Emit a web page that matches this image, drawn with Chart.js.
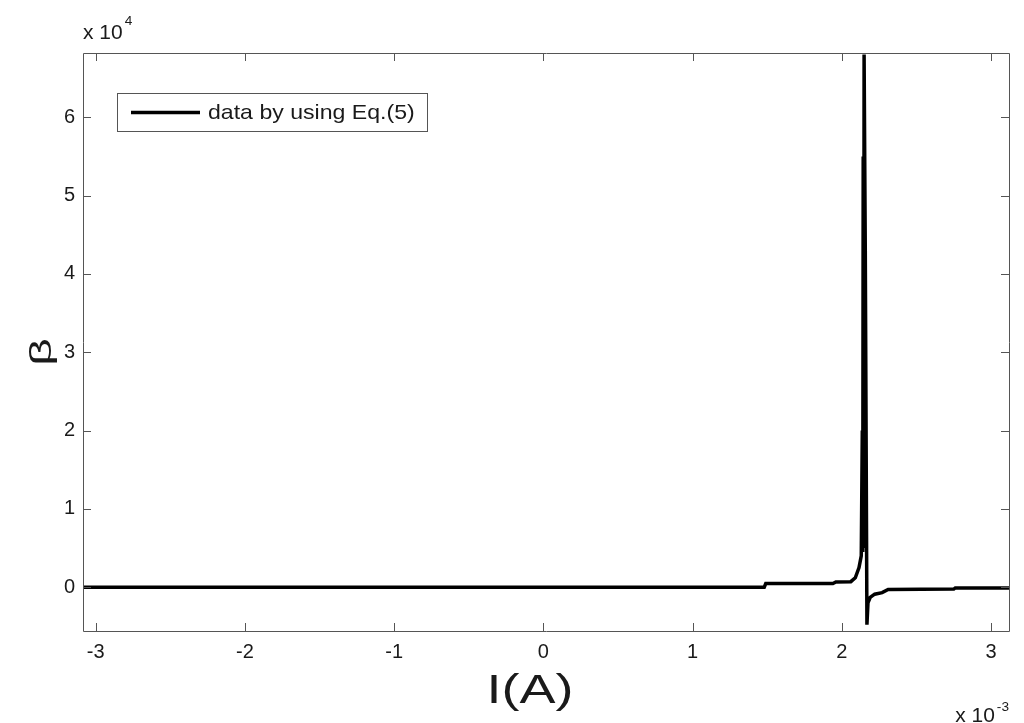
<!DOCTYPE html>
<html>
<head>
<meta charset="utf-8">
<script src="https://cdn.jsdelivr.net/npm/chart.js@4/dist/chart.umd.min.js"></script>
<style>
html,body{margin:0;padding:0;background:#fff;}
#wrap{width:1024px;height:723px;position:relative;}
</style>
</head>
<body>
<div id="wrap"><canvas id="c" width="1024" height="723"></canvas></div>
<script>
// Current I (units of 1e-3 A)
const currentI = [-3.085, 1.48, 1.49, 1.94, 1.96, 2.06, 2.09, 2.115, 2.13, 2.137, 2.140, 2.143, 2.146, 2.149, 2.152, 2.157, 2.168, 2.175, 2.19, 2.22, 2.27, 2.31, 2.75, 2.76, 3.12];
// beta (units of 1e4)
const betaValues = [0, 0, 0.045, 0.045, 0.065, 0.07, 0.12, 0.25, 0.4, 2.0, 0.45, 5.5, 0.5, 6.8, 6.8, 4.3, -0.48, -0.2, -0.13, -0.09, -0.07, -0.03, -0.025, -0.01, -0.01];
const xTickValues = [-3, -2, -1, 0, 1, 2, 3];
const yTickValues = [0, 1, 2, 3, 4, 5, 6];
const seriesLabel = 'data by using Eq.(5)';
const xTitle = 'I(A)';
const yTitle = 'β';
const xExponent = '-3';
const yExponent = '4';

const FONT = '"Liberation Sans", Arial, Helvetica, sans-serif';
const AXIS_COLOR = '#555555';
const TEXT_COLOR = '#1a1a1a';

const points = currentI.map((x, i) => ({x: x, y: betaValues[i]}));

function stretchedText(ctx, text, x, y, size, sx, align) {
  ctx.save();
  ctx.font = size + 'px ' + FONT;
  const w = ctx.measureText(text).width * sx;
  let left = x;
  if (align === 'center') left = x - w / 2;
  else if (align === 'right') left = x - w;
  ctx.translate(left, y);
  ctx.scale(sx, 1);
  ctx.textAlign = 'left';
  ctx.fillText(text, 0, 0);
  ctx.restore();
  return w;
}

const framePlugin = {
  id: 'frame',
  afterDraw(chart) {
    const ctx = chart.ctx;
    const a = chart.chartArea;
    const xs = chart.scales.x, ys = chart.scales.y;
    ctx.save();
    ctx.strokeStyle = AXIS_COLOR;
    ctx.lineWidth = 1;
    ctx.beginPath();
    ctx.rect(Math.round(a.left) + 0.5, Math.round(a.top) + 0.5, Math.round(a.right - a.left), Math.round(a.bottom - a.top));
    ctx.stroke();
    const tl = 8;
    ctx.beginPath();
    xTickValues.forEach(v => {
      const px = Math.round(xs.getPixelForValue(v)) + 0.5;
      ctx.moveTo(px, a.bottom); ctx.lineTo(px, a.bottom - tl);
      ctx.moveTo(px, a.top); ctx.lineTo(px, a.top + tl);
    });
    yTickValues.forEach(v => {
      const py = Math.round(ys.getPixelForValue(v)) + 0.5;
      ctx.moveTo(a.left, py); ctx.lineTo(a.left + tl, py);
      ctx.moveTo(a.right, py); ctx.lineTo(a.right - tl, py);
    });
    ctx.stroke();

    ctx.fillStyle = TEXT_COLOR;
    ctx.textBaseline = 'alphabetic';

    // exponent labels
    let w = stretchedText(ctx, 'x 10', a.left, 39, 20, 1.05, 'left');
    stretchedText(ctx, yExponent, a.left + w + 2, 25, 13, 1.05, 'left');

    ctx.font = '13px ' + FONT;
    const ew = ctx.measureText(xExponent).width * 1.05;
    ctx.font = '20px ' + FONT;
    const bw = ctx.measureText('x 10').width * 1.05;
    const startX = a.right - bw - ew - 2;
    stretchedText(ctx, 'x 10', startX, 722, 20, 1.05, 'left');
    stretchedText(ctx, xExponent, startX + bw + 2, 711, 13, 1.05, 'left');

    // axis titles
    stretchedText(ctx, xTitle, 530, 703, 40, 1.35, 'center');
    ctx.save();
    ctx.translate(51, 352);
    ctx.rotate(-Math.PI / 2);
    stretchedText(ctx, yTitle, 0, 0, 30, 1.6, 'center');
    ctx.restore();

    // legend
    const lx = 117, ly = 93, lw = 310, lh = 38;
    ctx.fillStyle = '#fff';
    ctx.fillRect(lx, ly, lw, lh);
    ctx.strokeStyle = AXIS_COLOR;
    ctx.lineWidth = 1;
    ctx.strokeRect(lx + 0.5, ly + 0.5, lw, lh);
    const ds = chart.data.datasets[0];
    ctx.strokeStyle = ds.borderColor;
    ctx.lineWidth = 3.5;
    ctx.beginPath();
    ctx.moveTo(131, ly + lh / 2 + 0.5);
    ctx.lineTo(200, ly + lh / 2 + 0.5);
    ctx.stroke();
    ctx.fillStyle = TEXT_COLOR;
    ctx.textBaseline = 'middle';
    stretchedText(ctx, ds.label, 208, ly + lh / 2 + 1, 21, 1.1, 'left');
    ctx.restore();
  }
};

new Chart(document.getElementById('c'), {
  type: 'line',
  data: {
    datasets: [{
      label: seriesLabel,
      data: points,
      borderColor: '#000000',
      backgroundColor: '#000000',
      borderWidth: 3.5,
      pointRadius: 0,
      tension: 0,
      fill: false
    }]
  },
  options: {
    responsive: false,
    animation: false,
    devicePixelRatio: 1,
    layout: {padding: {top: 53, right: 15, left: 0, bottom: 0}},
    plugins: {legend: {display: false}, tooltip: {enabled: false}},
    scales: {
      x: {
        type: 'linear',
        min: -3.085,
        max: 3.12,
        afterFit(s) { s.height = 92; },
        afterBuildTicks(s) { s.ticks = xTickValues.map(v => ({value: v})); },
        grid: {display: false, drawTicks: false},
        border: {display: false},
        ticks: {color: TEXT_COLOR, font: {family: FONT, size: 20}, padding: 9, maxRotation: 0, autoSkip: false,
          callback: v => String(v)},
        title: {display: false, text: xTitle}
      },
      y: {
        type: 'linear',
        min: -0.56,
        max: 6.82,
        afterFit(s) { s.width = 83; },
        afterBuildTicks(s) { s.ticks = yTickValues.map(v => ({value: v})); },
        grid: {display: false, drawTicks: false},
        border: {display: false},
        ticks: {color: TEXT_COLOR, font: {family: FONT, size: 20}, padding: 8, autoSkip: false,
          callback: v => String(v)},
        title: {display: false, text: yTitle}
      }
    }
  },
  plugins: [framePlugin]
});
</script>
</body>
</html>
